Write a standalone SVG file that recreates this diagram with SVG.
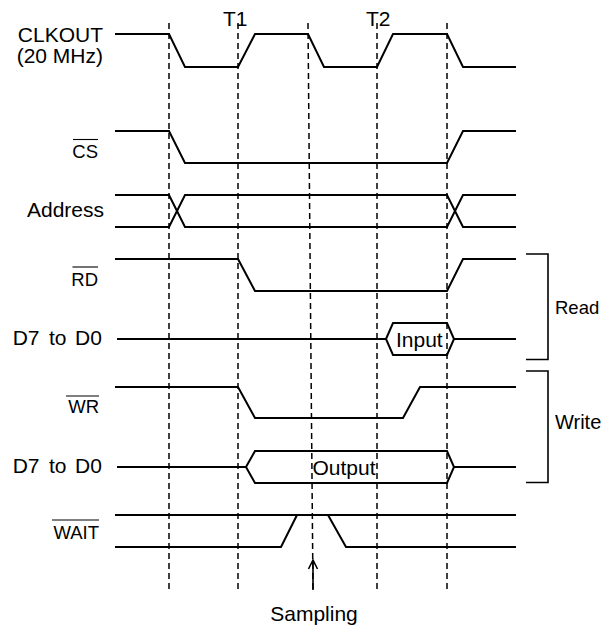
<svg xmlns="http://www.w3.org/2000/svg" width="604" height="632" viewBox="0 0 604 632">
<style>
text{font-family:"Liberation Sans",Arial,sans-serif;fill:#000}
.sig{fill:none;stroke:#000;stroke-width:2;stroke-linejoin:miter}
.dash{fill:none;stroke:#000;stroke-width:1.5;stroke-dasharray:6 4}
.br{fill:none;stroke:#000;stroke-width:1.6}
.ov{stroke:#000;stroke-width:1.1}
.big{font-size:21px}
.sm{font-size:18.5px}
</style>
<rect width="604" height="632" fill="#fff"/>
<g id="grid">
<line class="dash" x1="169" y1="23" x2="169" y2="590"/>
<line class="dash" x1="238" y1="23" x2="238" y2="590"/>
<line class="dash" x1="308" y1="23" x2="313" y2="590"/>
<line class="dash" x1="377" y1="23" x2="377" y2="590"/>
<line class="dash" x1="447" y1="23" x2="447" y2="590"/>
<text class="big" x="223" y="26">T1</text>
<text class="big" x="366" y="26">T2</text>
</g>
<g id="clkout">
<text class="big" x="103" y="42" text-anchor="end">CLKOUT</text>
<text class="big" x="103" y="63" text-anchor="end">(20 MHz)</text>
<path class="sig" d="M115,34 H169 L185,67 H238 L255,34 H308 L324,67 H377 L393,34 H447 L463,67 H516"/>
</g>
<g id="cs">
<text class="sm" x="98" y="158" text-anchor="end">CS</text>
<line class="ov" x1="73" y1="139.5" x2="98" y2="139.5"/>
<path class="sig" d="M115,131 H169 L185,163 H447 L463,131 H516"/>
</g>
<g id="address">
<text class="big" x="104" y="217" text-anchor="end">Address</text>
<path class="sig" d="M115,195 H169 L185,227 H447 L463,195 H516"/>
<path class="sig" d="M115,227 H169 L185,195 H447 L463,227 H516"/>
</g>
<g id="rd">
<text class="sm" x="98" y="286" text-anchor="end">RD</text>
<line class="ov" x1="72.5" y1="267" x2="98" y2="267"/>
<path class="sig" d="M115,259 H238 L255,291 H447 L463,259 H516"/>
</g>
<g id="data-read">
<text class="big" y="344.5"><tspan x="12.7">D7</tspan><tspan x="49">to</tspan><tspan x="75">D0</tspan></text>
<path class="sig" d="M117,339 H386 M454,339 H516"/>
<path class="sig" d="M386,339 L393,323 H447 L454,339 L447,355 H393 Z"/>
<text class="big" x="396" y="346.5">Input</text>
</g>
<g id="wr">
<text class="sm" x="99" y="412.5" text-anchor="end">WR</text>
<line class="ov" x1="66" y1="396" x2="99" y2="396"/>
<path class="sig" d="M115,387 H238 L255,418 H403 L420,387 H516"/>
</g>
<g id="data-write">
<text class="big" y="472.5"><tspan x="12.7">D7</tspan><tspan x="49">to</tspan><tspan x="75">D0</tspan></text>
<path class="sig" d="M117,467 H246 M454,467 H516"/>
<path class="sig" d="M246,467 L255,451 H447 L454,467 L447,483 H255 Z"/>
<text class="big" x="312.5" y="475">Output</text>
</g>
<g id="wait">
<text class="sm" x="99" y="539" text-anchor="end">WAIT</text>
<line class="ov" x1="52" y1="520" x2="99" y2="520"/>
<path class="sig" d="M115,515 H516"/>
<path class="sig" d="M115,547 H281 L297,515 M328,515 L346,547 H516"/>
</g>
<g id="read-bracket">
<path class="br" d="M526,254 H548 V359.5 H526"/>
<text x="555" y="314" style="font-size:18.5px">Read</text>
</g>
<g id="write-bracket">
<path class="br" d="M526,371 H548 V482.5 H526"/>
<text x="555" y="429" style="font-size:20px">Write</text>
</g>
<g id="sampling">
<path class="br" d="M313,590 V560 M308.5,569 L313,560 L317.5,569"/>
<text class="big" x="314" y="621" text-anchor="middle">Sampling</text>
</g>
</svg>
